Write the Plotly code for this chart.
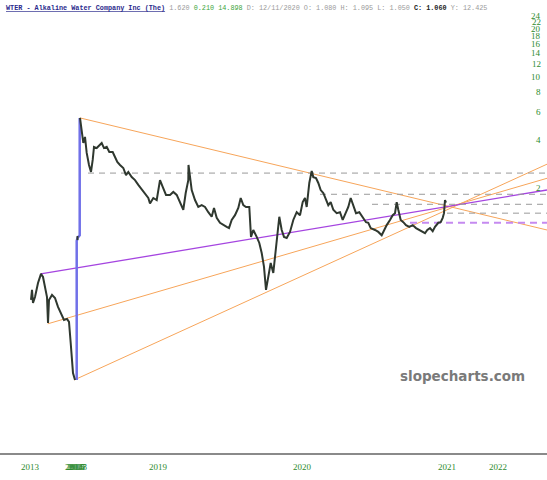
import math
import plotly.graph_objects as go

# ---------------- data ----------------
# 2013 segment (bar position, close)
seg1_x = [31, 32, 33, 35, 38, 41, 43, 45, 47, 48, 49, 52, 55, 58, 62, 64, 67, 69, 70.7, 72, 73, 75]
seg1_y = [0.397, 0.459, 0.380, 0.414, 0.507, 0.578, 0.553, 0.479, 0.414, 0.285, 0.397, 0.427,
          0.408, 0.359, 0.320, 0.297, 0.302, 0.289, 0.213, 0.151, 0.138, 0.125]

# single bar inside the gap
gap_x = [77.5]
gap_y = [0.971]

# 2018 - 2020 segment
seg2_x = [80, 81.7, 83.3, 85, 86.7, 89, 91, 92.7, 94, 96.7, 99.3, 101.7, 104, 106.7, 109.3, 112.7,
          115, 117.3, 120, 123.3, 126, 128.3, 131.7, 135, 138.3, 141.7, 145, 148.3, 150, 153.3,
          156.7, 160, 162.7, 166, 170, 173.3, 176.7, 180, 183.3, 185.7, 188.3, 188.5, 191.7, 195,
          198.3, 201.7, 205, 208.3, 211.7, 214, 216.7, 220, 223.3, 226.7, 229, 231.7, 235, 238.3,
          240.7, 243.3, 246, 249.3, 251, 253.3, 256.7, 259.3, 261.7, 264, 266, 268.3, 270.7, 273.3,
          275, 277.3, 279.3, 281.7, 284, 286.7, 290, 293.3, 296.7, 300, 302.7, 305, 306.7, 309.3,
          311.7, 313.3, 316, 318.3, 320.7, 323.3, 326, 328.3, 330.7, 333.3, 336.7, 340, 342.7, 345,
          348.3, 350.7, 353.3, 356, 359.3, 362.7, 366, 368.3, 370.7, 375, 378.3, 381.7, 384, 386.7,
          390, 392.7, 395, 396.7, 398.3, 400.7, 403.3, 406, 409.3, 412.7, 416, 419.3, 422.7, 425,
          427.3, 430, 432.7, 435, 438.3, 440.7, 442.7, 444, 445, 446]
seg2_y = [5.50, 4.62, 3.83, 4.18, 3.32, 2.79, 2.52, 3.00, 3.62, 3.56, 3.72, 3.83, 3.56, 3.62, 3.36, 3.36,
          3.13, 2.91, 2.79, 2.67, 2.41, 2.52, 2.34, 2.24, 2.09, 1.97, 1.86, 1.73, 1.60, 1.73,
          1.68, 2.24, 2.03, 1.81, 1.81, 1.89, 1.81, 1.63, 1.46, 1.86, 2.24, 2.79, 1.94, 1.68,
          1.52, 1.56, 1.52, 1.41, 1.32, 1.50, 1.30, 1.21, 1.17, 1.14, 1.12, 1.26, 1.35, 1.50,
          1.73, 1.56, 1.52, 1.52, 0.986, 1.09, 0.986, 0.904, 0.782, 0.639, 0.459, 0.553, 0.677, 0.586,
          0.738, 0.944, 1.32, 1.09, 0.986, 0.971, 1.06, 1.26, 1.41, 1.35, 1.63, 1.73, 1.52, 2.15,
          2.56, 2.34, 2.31, 2.15, 1.94, 1.86, 1.68, 1.56, 1.63, 1.46, 1.39, 1.41, 1.26, 1.35,
          1.52, 1.73, 1.56, 1.39, 1.41, 1.30, 1.22, 1.21, 1.12, 1.09, 1.06, 1.01, 1.09, 1.17,
          1.26, 1.35, 1.39, 1.63, 1.46, 1.26, 1.22, 1.17, 1.14, 1.17, 1.12, 1.09, 1.06, 1.04,
          1.09, 1.12, 1.07, 1.14, 1.21, 1.22, 1.30, 1.39, 1.68, 1.62]

# trendlines: [x0, x1], [v0, v1]
desc_x, desc_v = [80, 547], [5.50, 1.09]
purple_x, purple_v = [40.7, 547], [0.578, 1.943]
upA_x, upA_v = [47.7, 547], [0.281, 2.30]
upB_x, upB_v = [74.3, 547], [0.125, 2.82]

# horizontal levels: (start bar, value)
gray_levels = [(88, 2.48), (320, 1.826), (372, 1.58), (447, 1.39)]
purple_level = (410, 1.21)

# axes
year_pos = [30, 74, 75, 76, 77, 78, 158, 302, 447, 498]
year_txt = ["2013", "2014", "2015", "2016", "2017", "2018", "2019", "2020", "2021", "2022"]
price_ticks = [2, 4, 6, 8, 10, 12, 14, 16, 18, 20, 22, 24]

X_END = 547
Y_LOW, Y_HIGH = 0.0435, 24.68

# ---------------- figure ----------------
fig = go.Figure()

ORANGE = "#f7a55a"
for xs, vs in [(desc_x, desc_v), (upA_x, upA_v), (upB_x, upB_v)]:
    fig.add_trace(go.Scatter(x=xs, y=vs, mode="lines", line=dict(color=ORANGE, width=1),
                             hoverinfo="skip"))
fig.add_trace(go.Scatter(x=purple_x, y=purple_v, mode="lines",
                         line=dict(color="#a545e0", width=1.3), hoverinfo="skip"))

for x0, v in gray_levels:
    fig.add_trace(go.Scatter(x=[x0, X_END], y=[v, v], mode="lines",
                             line=dict(color="#9a9a9a", width=1, dash="6px,5px"), hoverinfo="skip"))
fig.add_trace(go.Scatter(x=[purple_level[0], X_END], y=[purple_level[1]] * 2, mode="lines",
                         line=dict(color="#c58af0", width=2, dash="7px,5px"), hoverinfo="skip"))

# gap connector (blue)
conn_x = [seg1_x[-1] + 1.7, seg1_x[-1] + 1.7, gap_x[0], seg2_x[0] - 0.3, seg2_x[0] - 0.3]
conn_y = [seg1_y[-1], gap_y[0] * 0.96, gap_y[0], gap_y[0] * 1.04, seg2_y[0]]
fig.add_trace(go.Scatter(x=conn_x, y=conn_y, mode="lines",
                         line=dict(color="#7070e8", width=2.5), hoverinfo="skip"))

PRICE = "#2f382f"
fig.add_trace(go.Scatter(x=seg1_x, y=seg1_y, mode="lines", line=dict(color=PRICE, width=2)))
fig.add_trace(go.Scatter(x=gap_x * 2, y=[gap_y[0] * 0.97, gap_y[0] * 1.03], mode="lines",
                         line=dict(color=PRICE, width=2)))
fig.add_trace(go.Scatter(x=seg2_x, y=seg2_y, mode="lines", line=dict(color=PRICE, width=2)))

header = ("<span style='color:#2a2a8c;text-decoration:underline'><b>WTER - Alkaline Water Company Inc (The)</b></span>"
          " <span style='color:#9a9a9a'>1.620</span>"
          " <span style='color:#3aa53a'>0.210 14.898</span>"
          " <span style='color:#9a9a9a'>D: 12/11/2020 O: 1.080 H: 1.095 L: 1.050</span>"
          " <b><span style='color:#222'>C: 1.060</span></b>"
          " <span style='color:#9a9a9a'>Y: 12.425</span>")
fig.add_annotation(text=header, xref="paper", yref="paper", x=0.0, y=1.0, xanchor="left",
                   yanchor="bottom", xshift=4, yshift=0, showarrow=False,
                   font=dict(family="Liberation Mono", size=6.8, color="#777"))

fig.add_annotation(text="<b>slopecharts.com</b>", xref="paper", yref="paper",
                   x=(462 / 547), y=(453 - 376) / 439, xanchor="center", yanchor="middle",
                   showarrow=False, font=dict(family="DejaVu Sans", size=13.5, color="#7a7a7a"))

# price scale labels, placed inside the plot at the right edge, at the tick values
for t in price_ticks:
    fig.add_annotation(text=str(t), xref="paper", yref="y", x=1.0, y=math.log10(t),
                       xanchor="right", yanchor="middle", xshift=-4, showarrow=False,
                       font=dict(family="Liberation Serif", size=9, color="#2e8b2e"))

fig.update_layout(
    width=547, height=480,
    margin=dict(l=0, r=0, t=14, b=27, autoexpand=False),
    paper_bgcolor="white", plot_bgcolor="white",
    showlegend=False,
    xaxis=dict(range=[0, X_END], tickvals=year_pos, ticktext=year_txt, showgrid=False,
               zeroline=False, showline=True, linecolor="#8a8a8a", linewidth=2, ticks="",
               tickangle=0, automargin=False, ticklabelstandoff=4,
               tickfont=dict(family="Liberation Serif", size=9, color="#2e8b2e")),
    yaxis=dict(type="log", range=[math.log10(Y_LOW), math.log10(Y_HIGH)],
               showticklabels=False, showgrid=False, zeroline=False, showline=False, ticks="",
               automargin=False),
)

fig.write_html("out.html", config={"displayModeBar": False},
               post_script="document.body.style.margin='0px';document.body.style.overflow='hidden';")
